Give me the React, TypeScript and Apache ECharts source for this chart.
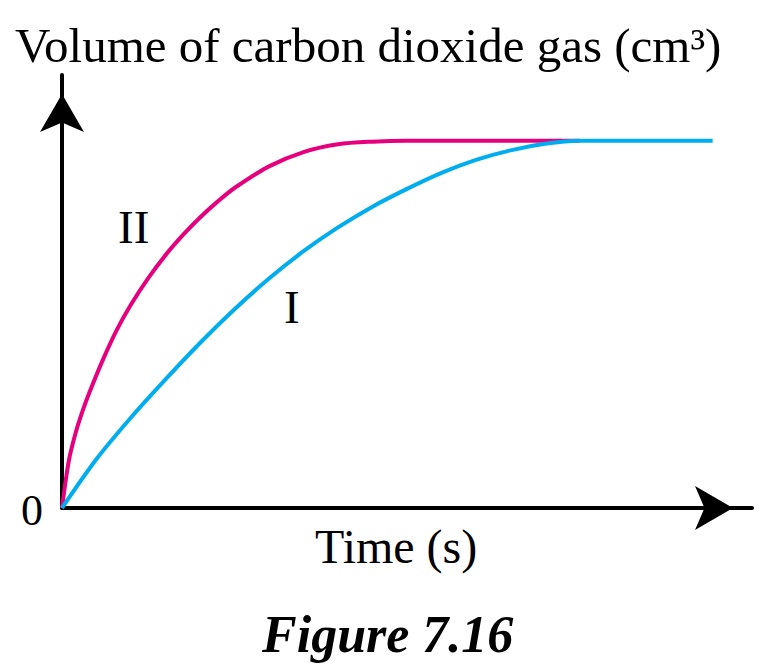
import React, { useEffect, useRef } from "react";
import * as echarts from "echarts";

// Curve II (faster reaction) : [time, volume]
const curveII: number[][] = [
  [0, 0], [1, 11.0], [2, 17.5], [3, 22.5], [4, 26.8], [6, 34.5], [8, 41.3],
  [10, 47.0], [12.5, 53.1], [15, 58.4], [17.5, 63.0], [20, 67.1], [22.5, 70.7],
  [25, 73.9], [30, 78.9], [35, 82.2], [40, 84.0], [45, 84.6], [50, 84.8], [75, 84.8],
];
// Curve I (slower reaction)
const curveI: number[][] = [
  [0, 0], [5, 11.3], [10, 20.9], [15, 29.7], [20, 38.1], [25, 45.9], [30, 53.0],
  [35, 59.3], [40, 64.8], [45, 69.6], [50, 73.7], [55, 77.4], [60, 80.4],
  [65, 82.6], [70, 84.1], [75, 84.8], [94.3, 84.8],
];

const titleText = "Volume of carbon dioxide gas (cm³)";
const xTitle = "Time (s)";
const caption = "Figure 7.16";

export default function App() {
  const ref = useRef<HTMLDivElement>(null);
  useEffect(() => {
    if (!ref.current) return;
    const chart = echarts.init(ref.current, null, { renderer: "svg" });
    const serif = "'Liberation Serif', 'Times New Roman', serif";
    const axisLine = {
      show: true,
      symbol: ["none", "arrow"],
      symbolSize: [33, 38],
      symbolOffset: [0, -19],
      lineStyle: { color: "#000", width: 4 },
    };
    chart.setOption({
      animation: false,
      backgroundColor: "#fff",
      grid: { left: 62, right: 16, top: 75, bottom: 157, containLabel: false },
      xAxis: {
        type: "value", min: 0, max: 100,
        axisLine, axisTick: { show: false }, axisLabel: { show: false }, splitLine: { show: false },
      },
      yAxis: {
        type: "value", min: 0, max: 100,
        axisLine, axisTick: { show: false }, axisLabel: { show: false }, splitLine: { show: false },
      },
      series: [
        {
          name: "I", type: "line", data: curveI, showSymbol: false, smooth: 0.3,
          lineStyle: { color: "#00AEEF", width: 4 }, z: 3,
        },
        {
          name: "II", type: "line", data: curveII, showSymbol: false, smooth: 0.3,
          lineStyle: { color: "#E6007E", width: 4 }, z: 2,
        },
      ],
      graphic: [
        { type: "text", x: 15, y: 45, style: { text: titleText, font: `49px ${serif}`, fill: "#000", align: "left", verticalAlign: "middle" } },
        { type: "text", x: 43, y: 510, style: { text: "0", font: `44px ${serif}`, fill: "#000", align: "right", verticalAlign: "middle" } },
        { type: "text", x: 118, y: 227, style: { text: "II", font: `47px ${serif}`, fill: "#000", align: "left", verticalAlign: "middle" } },
        { type: "text", x: 284, y: 307, style: { text: "I", font: `47px ${serif}`, fill: "#000", align: "left", verticalAlign: "middle" } },
        { type: "text", x: 315, y: 546, style: { text: xTitle, font: `48px ${serif}`, fill: "#000", align: "left", verticalAlign: "middle" } },
        { type: "text", x: 262, y: 634, style: { text: caption, font: `italic bold 52px ${serif}`, fill: "#000", align: "left", verticalAlign: "middle" } },
      ],
    });
    return () => chart.dispose();
  }, []);
  return <div ref={ref} style={{ position: "fixed", left: 0, top: 0, width: 768, height: 665 }} />;
}
